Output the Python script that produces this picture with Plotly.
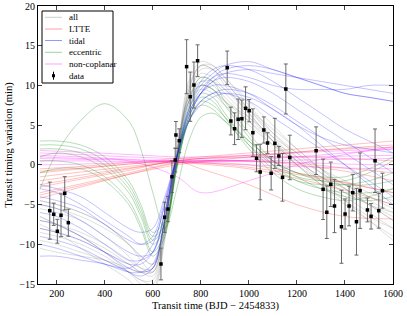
import plotly.graph_objects as go

# ---------------- data ----------------
obs_t = [171, 187.5, 202.5, 217.9, 233.3, 248.3, 633.9, 649.2, 663, 679.6, 693.3, 696.2, 710,
         740.8, 755.7, 771.1, 786.5, 909.7, 925, 940.4, 955.4, 970.8, 986.2, 1001.2, 1016.6,
         1031.9, 1047, 1062.3, 1077.7, 1092.7, 1108.1, 1124.7, 1140.1, 1153.8, 1170.4,
         1279.9, 1309, 1324.4, 1341, 1356.4, 1385.5, 1400.5, 1417.1, 1432.5, 1447.9, 1462.9,
         1493.7, 1508.7, 1525.3, 1540.7, 1556.1]
obs_ttv = [-5.77, -6.22, -8.36, -6.35, -3.58, -7.28, -12.48, -6.6, -5.56, -1.49, 0.61, 3.76, 3.04,
           12.36, 8.58, 10.05, 13.11, 12.23, 5.52, 4.55, 5.74, 5.81, 7.12, 6.82, 4.05,
           0.83, -0.9, 4.39, 2.75, -1.06, 2.71, 1.12, -1.57, 9.55, 0.93,
           1.78, -3.08, -5.97, -2.45, -5.18, -7.79, -6.19, -5.18, -3.5, -7.16, -3.25,
           -5.68, -6.48, 0.52, -5.77, -3.25]
obs_err = [3.6, 1.4, 1.5, 2.7, 2.1, 1.7, 2.0, 1.9, 1.6, 2.0, 1.5, 1.7, 1.5,
           3.4, 3.1, 2.9, 2.0, 2.1, 1.75, 2.0, 2.55, 2.35, 2.7, 1.4, 3.0,
           1.7, 3.5, 1.65, 1.3, 2.1, 3.15, 1.2, 3.0, 3.15, 2.8,
           3.0, 3.8, 3.3, 2.8, 3.35, 4.6, 1.9, 2.5, 2.3, 4.2, 4.75,
           1.5, 1.6, 4.0, 2.2, 2.2]

x_grid = [130, 200, 300, 400, 500, 550, 600, 650, 700, 750, 800, 850, 900, 1000, 1100, 1200, 1300, 1400, 1500, 1600]
x_coarse = [130, 300, 500, 700, 800, 1000, 1200, 1400, 1600]

all_curves = [
    [-5.5, -6, -7, -9, -11.5, -13, -13.5, -7.5, 1.5, 8.5, 11, 10.5, 9, 6, 3, 0.5, -1.5, -3.5, -5, -6.5],
    [-6.5, -7.5, -9, -11, -13.5, -15, -15.5, -9, 1, 10, 12.5, 12, 10, 6.5, 3, 0, -2.5, -4.5, -6.5, -8],
    [-4.5, -5, -6, -7.5, -10, -11.5, -12.5, -7, 2, 8.5, 10, 9.5, 8, 5.5, 3, 1, -1, -2.5, -4, -5],
    [-8, -8.5, -9.5, -11, -12.5, -13.5, -13.5, -7, 1.5, 8, 10, 9.5, 8, 6, 3.5, 1.5, -0.5, -2, -3.5, -4.5],
    [-7.5, -8.5, -10.5, -12.5, -14.5, -16, -16, -9.5, 1, 10.5, 13, 12.5, 11, 7.5, 4, 1, -2, -4.5, -7, -9.5],
    [-5, -5.5, -6.5, -8, -10, -11.5, -12.5, -7, 1.5, 8, 10.5, 10.5, 9.5, 7, 4.5, 2, -0.5, -2.5, -4, -5.5],
    [-9.5, -10, -11, -12, -13.5, -14.5, -14.5, -8.5, 1, 9, 11.5, 11, 9.5, 6.5, 3, 0, -2.5, -5, -7, -9],
    [-4.5, -5, -6, -7.5, -10, -12, -13.5, -8.5, 0.5, 9, 12, 12, 10.5, 7, 4, 1.5, -1, -3, -5, -7],
    [-10.5, -11, -11.5, -12, -13, -13.5, -13, -7, 1.5, 8, 9.5, 9, 7.5, 5, 2.5, 0.5, -1.5, -3, -4.5, -6],
    [-6.5, -7.5, -9, -10.5, -12.5, -13.5, -14, -8, 1, 9.5, 12.5, 12.5, 11, 8, 5, 2, -0.5, -3, -5, -7],
    [-7, -7.5, -8.5, -10, -12, -13, -13, -6.5, 2, 8.5, 10.5, 10, 8.5, 5.5, 2.5, 0, -2, -3.5, -5, -6],
    [-8.5, -9, -10, -11.5, -13.5, -14.5, -15, -9, 0.5, 9.5, 12.5, 12, 10.5, 7, 3.5, 0.5, -2, -4, -6, -8],
]

tidal_curves = [
    [-3, -3.5, -5, -7, -9, -10, -9.5, -5, 1, 6, 9, 10.5, 11.5, 12, 11.5, 11, 10.5, 10, 9.5, 9],
    [-5, -5.5, -7, -9, -11, -11.5, -11, -6, 1, 7, 10, 11.5, 12.5, 13, 12, 11, 10, 9, 8.5, 8],
    [-7, -7.5, -9, -11, -13, -13.5, -13, -7, 1, 7.5, 10.5, 12, 12.5, 12, 10.5, 8.5, 6.5, 4.5, 3, 1.5],
    [-9, -9.5, -10.5, -12, -13.5, -14, -13, -7, 0.5, 6.5, 9, 10.5, 11, 10.5, 9, 7, 5, 3, 1, -1],
    [-11.5, -11.5, -12, -12.5, -13.5, -13.5, -12.5, -7, 0, 5.5, 8, 9, 9.5, 9, 7.5, 5.5, 3.5, 1.5, -0.5, -2.5],
    [-4, -4.5, -5.5, -7.5, -9.5, -10, -9, -4.5, 1, 5.5, 7.5, 8.5, 9, 8.5, 7, 5, 2.5, 0, -2.5, -5],
    [-6, -6.5, -8, -10, -12, -12, -11, -6, 1, 7, 9.5, 11, 11.5, 11, 10, 9.5, 9.5, 9.5, 10, 10],
    [-8, -8.5, -9.5, -11, -12.5, -12.5, -11, -6, 1, 6.5, 9, 10, 10, 9, 7, 5, 3.5, 2.5, 2, 1.5],
    [-10, -10.5, -11.5, -12.5, -13, -12, -10, -5, 1, 5.5, 8, 9, 9, 8, 6, 4, 2, 0, -2, -4],
    [-2.5, -3, -4, -6, -8, -8.5, -8, -4, 1, 6, 9, 11, 12, 12.5, 12, 11, 10, 9, 8.5, 8],
]

eccentric_curves = [
    [-3, 1.5, 5.6, 7.7, 5.5, 2, -3.5, -8, -3, 3, 6, 6.5, 5.5, 3, 0.5, -1, -2, -2.5, -2.5, -2],
    [2, 2, 1.5, 0, -3, -6, -9.5, -7.5, 0, 6.5, 9, 8.5, 6.5, 2.5, -0.5, -2, -2.5, -2.5, -2, -1],
    [0.5, 0.5, 0, -1.5, -4.5, -7.5, -11, -8.5, 0, 7, 10, 9.5, 7.5, 3.5, 0, -2, -3, -3.5, -3.5, -3],
    [3, 3, 2.5, 1, -2, -5, -8.5, -7, 0, 5.5, 7.5, 7, 5.5, 2.5, 0, -1.5, -2, -2, -1, 0.5],
    [-1, -0.5, -0.5, -2, -5, -8, -11.5, -9, 0.5, 8, 11, 10.5, 8, 4, 0.5, -1.5, -3, -4, -4.5, -4],
    [1, 1.5, 1, -0.5, -3.5, -6.5, -10, -8, -0.5, 5.5, 8, 7.5, 6, 3, 0.5, -1, -1.5, -1.5, -0.5, 1],
    [2.5, 2.5, 2, 0.5, -2.5, -5.5, -9, -7.5, -0.5, 6, 8.5, 8, 6, 2, -1, -3, -4, -4.5, -4, -3],
]

ltte_curves = [
    [-0.5, -0.2, 0.3, 0.8, 1.0, 1.5, 2.0, 2.5, 3.0],
    [-1.5, -0.9, -0.2, 0.5, 0.8, 1.2, 1.6, 2.0, 2.2],
    [-2.5, -1.6, -0.5, 0.5, 0.8, 1.0, 1.0, 0.8, 0.5],
    [-3.5, -2.4, -1.0, 0.3, 0.5, 0.5, 0.2, -0.4, -1.0],
    [-4.2, -2.8, -1.2, 0.2, 0.3, 0.0, -1.0, -2.2, -3.5],
    [-2.0, -1.3, -0.4, 0.3, 0.1, -0.5, -1.7, -3.2, -5.0],
    [-2.8, -1.8, -0.7, 0.4, -0.5, -2.5, -5.0, -6.5, -6.8],
    [-1.0, -0.5, 0.1, 0.6, 0.6, 0.5, 0.0, -0.8, -2.0],
    [-3.8, -2.6, -1.2, 0.0, 0.4, 1.0, 1.6, 2.1, 2.5],
    [-0.8, -0.4, 0.1, 0.5, 0.3, -0.3, -1.2, -2.3, -3.5],
]

noncoplanar_curves = [
    [1.8, 1.6, 1.3, 1.0, 1.0, 1.2, 1.5, 1.8, 2.0],
    [1.2, 1.0, 0.7, 0.5, 0.5, 0.5, 0.6, 0.7, 0.8],
    [0.5, 0.5, 0.4, 0.3, 0.2, 0.0, -0.2, -0.4, -0.5],
    [0.0, 0.1, 0.3, 0.5, 0.5, 0.4, 0.3, 0.1, 0.0],
    [1.0, 0.8, 0.5, -1.5, -3.5, -2.0, 0.0, 1.3, 2.3],
    [1.5, 1.3, 1.0, 0.8, 0.8, 0.9, 1.0, 1.1, 1.2],
    [0.8, 0.7, 0.6, 0.4, 0.4, 0.6, 1.0, 1.5, 2.0],
]

x_ticks = [200, 400, 600, 800, 1000, 1200, 1400, 1600]
y_ticks = [-15, -10, -5, 0, 5, 10, 15, 20]
legend_labels = ["all", "LTTE", "tidal", "eccentric", "non-coplanar", "data"]

families = [
    (all_curves, x_grid, "rgba(120,120,120,0.3)", "rgb(205,205,205)"),
    (ltte_curves, x_coarse, "rgba(255,0,0,0.3)", "rgb(255,160,160)"),
    (tidal_curves, x_grid, "rgba(0,0,255,0.3)", "rgb(150,150,255)"),
    (eccentric_curves, x_grid, "rgba(0,128,0,0.35)", "rgb(160,210,160)"),
    (noncoplanar_curves, x_coarse, "rgba(255,0,255,0.35)", "rgb(255,160,255)"),
]

fig = go.Figure()
for curves, xs, col, _ in families:
    for c in curves:
        fig.add_trace(go.Scatter(x=xs, y=c, mode="lines", showlegend=False, hoverinfo="skip",
                                 line=dict(color=col, width=0.8, shape="spline", smoothing=1.0)))

fig.add_trace(go.Scatter(
    x=obs_t, y=obs_ttv, mode="markers", showlegend=False,
    marker=dict(symbol="square", size=3.5, color="black"),
    error_y=dict(type="data", array=obs_err, visible=True, color="rgba(90,90,90,0.9)",
                 thickness=1, width=2),
))

font_family = "Liberation Serif, Times New Roman, serif"

# ---- legend box drawn in axis-domain coordinates ----
L, T, W, H = 38, 6, 355, 278   # plot area in pixels (used only for legend placement)
def px2dom(px, py):
    return (px - L) / W, (T + H - py) / H

shapes = []
annotations = []
bx0, by0 = px2dom(42, 11)
bx1, by1 = px2dom(113, 83)
shapes.append(dict(type="rect", xref="x domain", yref="y domain", x0=bx0, y0=by1, x1=bx1, y1=by0,
                   line=dict(color="black", width=1), fillcolor="white", layer="above"))
row_py = [17.3, 29, 40.5, 52.3, 64, 75.7]
for i, lab in enumerate(legend_labels):
    xa, ya = px2dom(45, row_py[i])
    xb, _ = px2dom(62, row_py[i])
    xt, _ = px2dom(66.5, row_py[i])
    if i < 5:
        shapes.append(dict(type="line", xref="x domain", yref="y domain", x0=xa, x1=xb, y0=ya, y1=ya,
                           line=dict(color=families[i][3], width=1), layer="above"))
    else:
        xm, _ = px2dom(53.5, row_py[i])
        _, yt = px2dom(0, row_py[i] - 4)
        _, yb = px2dom(0, row_py[i] + 4)
        shapes.append(dict(type="line", xref="x domain", yref="y domain", x0=xm, x1=xm, y0=yb, y1=yt,
                           line=dict(color="black", width=1), layer="above"))
        xs0, ys0 = px2dom(52, row_py[i] + 1.5)
        xs1, ys1 = px2dom(55, row_py[i] - 1.5)
        shapes.append(dict(type="rect", xref="x domain", yref="y domain", x0=xs0, x1=xs1, y0=ys0, y1=ys1,
                           line=dict(color="black", width=0), fillcolor="black", layer="above"))
    annotations.append(dict(xref="x domain", yref="y domain", x=xt, y=ya, text=lab, showarrow=False,
                            xanchor="left", yanchor="middle", font=dict(family=font_family, size=9)))

fig.update_layout(
    width=407, height=316,
    margin=dict(l=38, r=14, t=6, b=32, autoexpand=False),
    paper_bgcolor="white", plot_bgcolor="white",
    font=dict(family=font_family, size=10, color="black"),
    showlegend=False,
    shapes=shapes, annotations=annotations,
)
fig.update_xaxes(range=[122, 1600], tickvals=x_ticks, ticks="inside", ticklen=4,
                 showline=True, linecolor="black", linewidth=1, mirror="ticks",
                 showgrid=False, zeroline=False, automargin=False,
                 title=dict(text="Transit time (BJD − 2454833)", font=dict(size=10.5), standoff=3),
                 tickfont=dict(size=10))
fig.update_yaxes(range=[-15, 20], tickvals=y_ticks, ticks="inside", ticklen=4,
                 showline=True, linecolor="black", linewidth=1, mirror="ticks",
                 showgrid=False, zeroline=False, automargin=False,
                 title=dict(text="Transit timing variation (min)", font=dict(size=10.5), standoff=4),
                 tickfont=dict(size=10))

fig.write_html("out.html", config={"displayModeBar": False},
               post_script="document.body.style.margin='0';")
